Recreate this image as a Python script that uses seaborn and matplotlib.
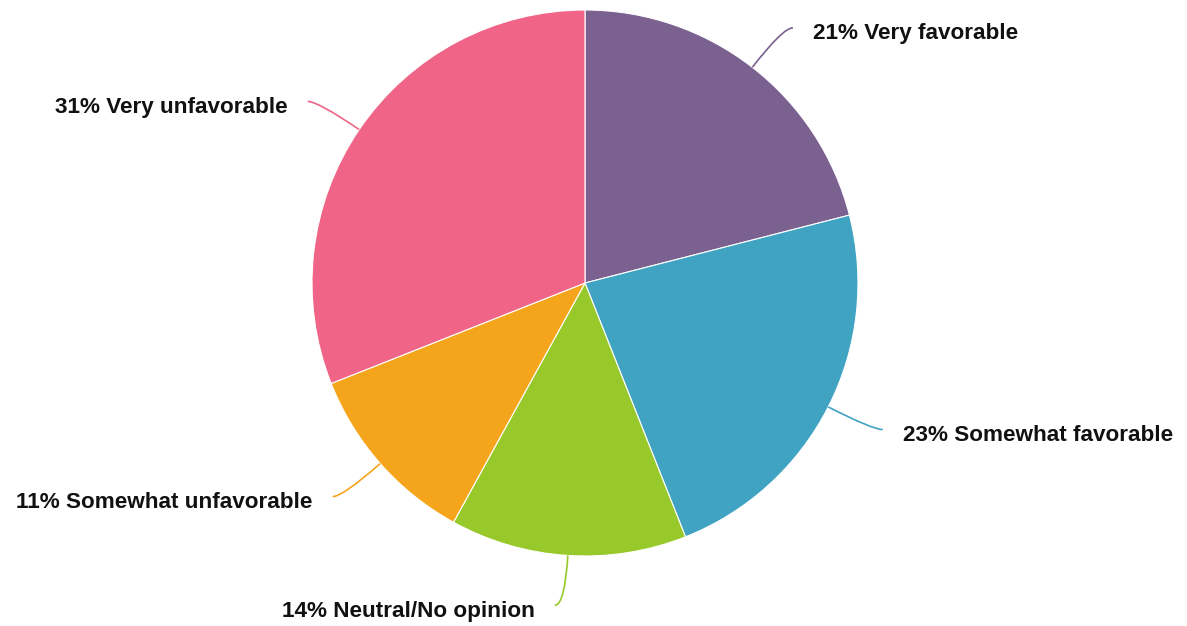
"""
Pie chart of favorability shares with curved callout labels.
"""

import numpy as np
import matplotlib
matplotlib.use('Agg')
import matplotlib.pyplot as plt
from matplotlib.path import Path
from matplotlib.patches import PathPatch
import seaborn as sns


categories = ['Very favorable', 'Somewhat favorable', 'Neutral/No opinion',
              'Somewhat unfavorable', 'Very unfavorable']
shares = [21, 23, 14, 11, 31]
slice_colors = ['#7b6190', '#41a3c2', '#97c92a', '#f5a51b', '#f06587']

sns.set_style('white')
plt.rcParams['font.family'] = ['Liberation Sans', 'DejaVu Sans']

W, H = 1187, 626
cx, cy, R = 585, 283, 273  # pie centre and radius in pixels

fig = plt.figure(figsize=(W / 100, H / 100), dpi=100)
ax = fig.add_axes([0, 0, 1, 1])

palette = sns.color_palette(slice_colors)
ax.pie(shares, colors=palette, startangle=90, counterclock=False, radius=1,
       center=(0, 0), frame=True,
       wedgeprops={'edgecolor': 'white', 'linewidth': 0.8})
ax.set_xlim(-cx / R, (W - cx) / R)
ax.set_ylim(-(H - cy) / R, cy / R)
ax.axis('off')

# callout lines: radial start, curving to horizontal
total = float(sum(shares))
cum = np.cumsum([0] + shares[:-1])
r_ctrl = 323 / R
hoff = 10 / R
gap = 20 / R
for cat, val, start, col in zip(categories, shares, cum, palette):
    mid = 2 * np.pi * (start + val / 2) / total  # clockwise from top
    dx, dy = np.sin(mid), np.cos(mid)
    side = 1 if dx >= 0 else -1
    p0 = (dx, dy)
    p1 = (dx * r_ctrl, dy * r_ctrl)
    p2 = (p1[0] + side * hoff, p1[1])
    path = Path([p0, p1, p2], [Path.MOVETO, Path.CURVE3, Path.CURVE3])
    ax.add_patch(PathPatch(path, facecolor='none', edgecolor=col, lw=1.2))
    ax.text(p2[0] + side * gap, p2[1] - 6 / R, f'{val}% {cat}',
            ha='left' if side > 0 else 'right', va='center',
            fontsize=16.2, fontweight='bold', color='#111111')

plt.savefig('out.png', dpi=100)
plt.close()
